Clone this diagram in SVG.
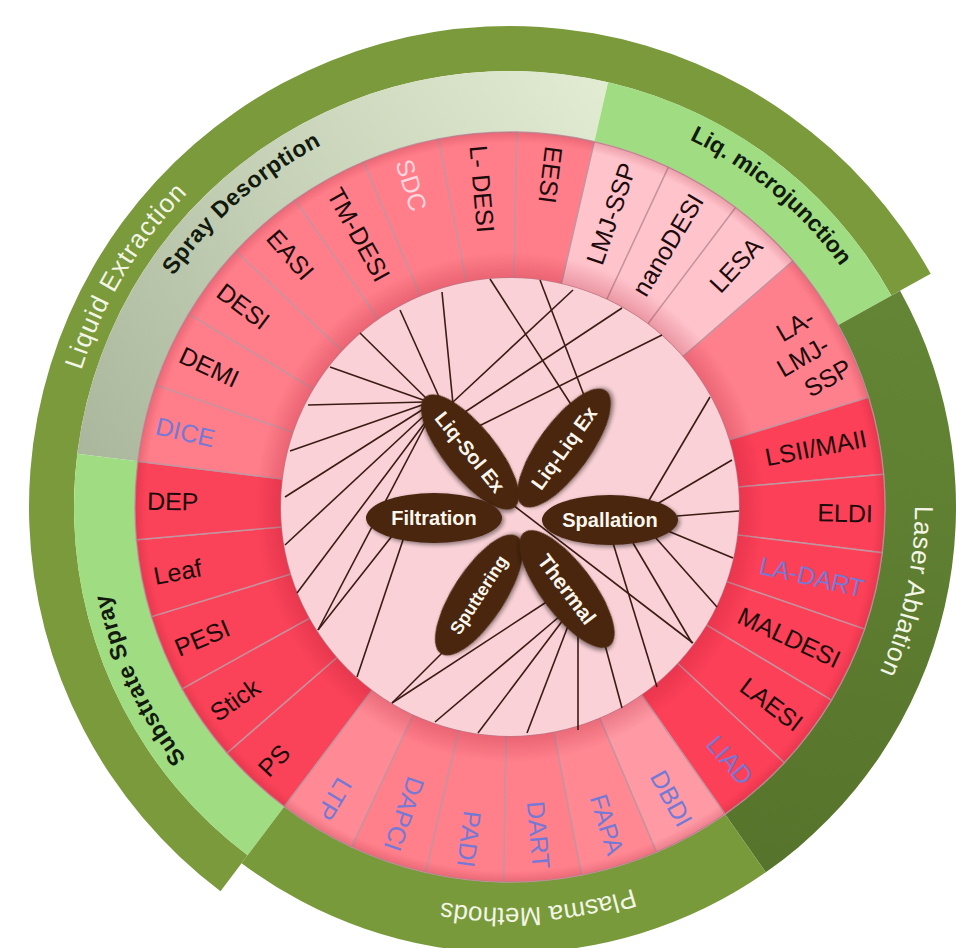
<svg xmlns="http://www.w3.org/2000/svg" width="956" height="948" viewBox="0 0 956 948">
<defs>
<style>
.lbl{font-family:"Liberation Sans",Arial,sans-serif;font-size:25px;dominant-baseline:central}
.out{text-anchor:end}
.in{text-anchor:start}
.k{fill:#1c0a0c}
.b{fill:#7479d6}
.p{fill:#ffd6de}
.seg{stroke:#c4949f;stroke-width:1.4}
.grp{font-family:"Liberation Sans",Arial,sans-serif;text-anchor:middle}
.wt{fill:#f3f5e6;font-size:26px}
.bk{fill:#111a0c;font-weight:bold;font-size:23px}
.petal{fill:#4a2511}
.pt{font-family:"Liberation Sans",Arial,sans-serif;font-weight:bold;fill:#fbf7ee;text-anchor:middle;dominant-baseline:central}
.con line{stroke:#3b1c14;stroke-width:1.6}
</style>
<path id="s12" d="M470.80,134.05 A375,375 0 0 1 549.20,134.05 L533.94,279.25 A229,229 0 0 0 486.06,279.25 Z"/>
<path id="s24" d="M432.03,140.20 A375,375 0 0 1 587.97,140.20 L557.61,283.00 A229,229 0 0 0 462.39,283.00 Z"/>
<path id="arcLE" d="M84.52,653.51 A450,450 0 0 1 439.61,62.54"/>
<path id="arcSD" d="M102.14,517.68 A408,408 0 0 1 570.31,103.48"/>
<path id="arcLM" d="M438.98,104.21 A409,409 0 0 1 919,507"/>
<path id="arcLA" d="M829.14,257.66 A405,405 0 0 1 700.14,864.59"/>
<path id="arcPM" d="M834.42,742.70 A401,401 0 0 1 221.55,785.56"/>
<path id="arcSS" d="M403.88,903.03 A410,410 0 0 1 138.41,333.73"/>
<linearGradient id="sdg" gradientUnits="userSpaceOnUse" x1="620" y1="80" x2="90" y2="470">
<stop offset="0" stop-color="#e3edd3"/><stop offset="1" stop-color="#aab79c"/>
</linearGradient>
<linearGradient id="lag" gradientUnits="userSpaceOnUse" x1="880" y1="300" x2="780" y2="870">
<stop offset="0" stop-color="#648535"/><stop offset="1" stop-color="#56742b"/>
</linearGradient>
<radialGradient id="shade" gradientUnits="userSpaceOnUse" cx="510" cy="507" r="375">
<stop offset="0.6" stop-color="#b01830" stop-opacity="0.3"/>
<stop offset="0.68" stop-color="#b01830" stop-opacity="0"/>
<stop offset="0.97" stop-color="#b01830" stop-opacity="0"/>
<stop offset="1" stop-color="#901020" stop-opacity="0.2"/>
</radialGradient>
<filter id="sh" x="-20%" y="-40%" width="140%" height="180%">
<feGaussianBlur in="SourceAlpha" stdDeviation="2"/>
<feOffset dx="1.5" dy="2"/>
<feComponentTransfer><feFuncA type="linear" slope="0.45"/></feComponentTransfer>
<feMerge><feMergeNode/><feMergeNode in="SourceGraphic"/></feMerge>
</filter>
</defs>

<g id="band-liquid-extraction">
<path d="M247.61,855.21 L220.52,891.15 A481,481 0 1 1 930.69,273.81 L891.33,295.62 A436,436 0 1 0 247.61,855.21 Z" fill="#7a9a3b"/>
<text class="grp wt" font-size="28" letter-spacing="1"><textPath href="#arcLE" startOffset="50%">Liquid Extraction</textPath></text>
</g>
<g id="band-spray-desorption">
<path d="M137.79,461.30 L77.25,453.86 A436,436 0 0 1 608.08,82.18 L594.36,141.61 A375,375 0 0 0 137.79,461.30 Z" fill="url(#sdg)"/>
<text class="grp bk" font-size="24" letter-spacing="0.5"><textPath href="#arcSD" startOffset="50%">Spray Desorption</textPath></text>
</g>
<g id="band-liq-microjunction">
<path d="M594.36,141.61 L608.08,82.18 A436,436 0 0 1 891.33,295.62 L837.98,325.20 A375,375 0 0 0 594.36,141.61 Z" fill="#a0dc82"/>
<text class="grp bk" font-size="22"><textPath href="#arcLM" startOffset="50%">Liq. microjunction</textPath></text>
</g>
<g id="band-substrate-spray">
<path d="M284.32,806.49 L247.61,855.21 A436,436 0 0 1 77.25,453.86 L137.79,461.30 A375,375 0 0 0 284.32,806.49 Z" fill="#a0dc82"/>
<text class="grp bk" font-size="24" letter-spacing="0.5"><textPath href="#arcSS" startOffset="50%">Substrate Spray</textPath></text>
</g>
<g id="band-laser-ablation">
<path d="M837.98,325.20 L900.08,290.77 A446,446 0 0 1 765.82,872.34 L725.09,814.18 A375,375 0 0 0 837.98,325.20 Z" fill="url(#lag)"/>
<text class="grp wt" letter-spacing="0.5"><textPath href="#arcLA" startOffset="50%">Laser Ablation</textPath></text>
</g>
<g id="band-plasma-methods">
<path d="M725.09,814.18 L765.82,872.34 A446,446 0 0 1 241.59,863.19 L284.32,806.49 A375,375 0 0 0 725.09,814.18 Z" fill="#789a3b"/>
<text class="grp wt"><textPath href="#arcPM" startOffset="50%">Plasma Methods</textPath></text>
</g>

<g id="seg-EESI"><use href="#s12" class="seg" fill="#ff7e8a" transform="rotate(7 510 507)"/><text class="lbl in k" transform="rotate(7 510 507) translate(510 144) rotate(90)">EESI</text></g>
<g id="seg-LMJ-SSP"><use href="#s12" class="seg" fill="#ffc3cb" transform="rotate(19 510 507)"/><text class="lbl out k" transform="rotate(19 510 507) translate(510 144) rotate(-90)">LMJ-SSP</text></g>
<g id="seg-nanoDESI"><use href="#s12" class="seg" fill="#ffc3cb" transform="rotate(31 510 507)"/><text class="lbl out k" transform="rotate(31 510 507) translate(510 144) rotate(-90)">nanoDESI</text></g>
<g id="seg-LESA"><use href="#s12" class="seg" fill="#ffc3cb" transform="rotate(43 510 507)"/><text class="lbl out k" transform="rotate(43 510 507) translate(510 144) rotate(-90)">LESA</text></g>
<g id="seg-LA-LMJ-SSP"><use href="#s24" class="seg" fill="#ff808d" transform="rotate(61 510 507)"/><text class="lbl k" font-size="22" text-anchor="middle" transform="translate(795 325) rotate(-30)"><tspan x="0" y="0">LA-</tspan><tspan x="-9" y="31">LMJ-</tspan><tspan x="2" y="62">SSP</tspan></text></g>
<g id="seg-LSII-MAII"><use href="#s12" class="seg" fill="#fc4058" transform="rotate(79 510 507)"/><text class="lbl out k" transform="rotate(79 510 507) translate(510 144) rotate(-90)">LSII/MAII</text></g>
<g id="seg-ELDI"><use href="#s12" class="seg" fill="#fc4058" transform="rotate(91 510 507)"/><text class="lbl out k" transform="rotate(91 510 507) translate(510 144) rotate(-90)">ELDI</text></g>
<g id="seg-LA-DART"><use href="#s12" class="seg" fill="#fc4058" transform="rotate(103 510 507)"/><text class="lbl out b" transform="rotate(103 510 507) translate(510 144) rotate(-90)">LA-DART</text></g>
<g id="seg-MALDESI"><use href="#s12" class="seg" fill="#fc4058" transform="rotate(115 510 507)"/><text class="lbl out k" transform="rotate(115 510 507) translate(510 144) rotate(-90)">MALDESI</text></g>
<g id="seg-LAESI"><use href="#s12" class="seg" fill="#fc4058" transform="rotate(127 510 507)"/><text class="lbl out k" transform="rotate(127 510 507) translate(510 144) rotate(-90)">LAESI</text></g>
<g id="seg-LIAD"><use href="#s12" class="seg" fill="#fc4058" transform="rotate(139 510 507)"/><text class="lbl out b" transform="rotate(139 510 507) translate(510 144) rotate(-90)">LIAD</text></g>
<g id="seg-DBDI"><use href="#s12" class="seg" fill="#ff9aa5" transform="rotate(151 510 507)"/><text class="lbl out b" transform="rotate(151 510 507) translate(510 144) rotate(-90)">DBDI</text></g>
<g id="seg-FAPA"><use href="#s12" class="seg" fill="#ff8893" transform="rotate(163 510 507)"/><text class="lbl out b" transform="rotate(163 510 507) translate(510 144) rotate(-90)">FAPA</text></g>
<g id="seg-DART"><use href="#s12" class="seg" fill="#ff7f8b" transform="rotate(175 510 507)"/><text class="lbl out b" transform="rotate(175 510 507) translate(510 144) rotate(-90)">DART</text></g>
<g id="seg-PADI"><use href="#s12" class="seg" fill="#ff7f8b" transform="rotate(187 510 507)"/><text class="lbl out b" transform="rotate(187 510 507) translate(510 144) rotate(-90)">PADI</text></g>
<g id="seg-DAPCI"><use href="#s12" class="seg" fill="#ff7f8b" transform="rotate(199 510 507)"/><text class="lbl out b" transform="rotate(199 510 507) translate(510 144) rotate(-90)">DAPCI</text></g>
<g id="seg-LTP"><use href="#s12" class="seg" fill="#ff8a95" transform="rotate(211 510 507)"/><text class="lbl out b" transform="rotate(211 510 507) translate(510 144) rotate(-90)">LTP</text></g>
<g id="seg-PS"><use href="#s12" class="seg" fill="#fa4359" transform="rotate(223 510 507)"/><text class="lbl in k" transform="rotate(223 510 507) translate(510 144) rotate(90)">PS</text></g>
<g id="seg-Stick"><use href="#s12" class="seg" fill="#fa4359" transform="rotate(235 510 507)"/><text class="lbl in k" transform="rotate(235 510 507) translate(510 144) rotate(90)">Stick</text></g>
<g id="seg-PESI"><use href="#s12" class="seg" fill="#fa4359" transform="rotate(247 510 507)"/><text class="lbl in k" transform="rotate(247 510 507) translate(510 144) rotate(90)">PESI</text></g>
<g id="seg-Leaf"><use href="#s12" class="seg" fill="#fa4359" transform="rotate(259 510 507)"/><text class="lbl in k" transform="rotate(259 510 507) translate(510 144) rotate(90)">Leaf</text></g>
<g id="seg-DEP"><use href="#s12" class="seg" fill="#fa4359" transform="rotate(271 510 507)"/><text class="lbl in k" transform="rotate(271 510 507) translate(510 144) rotate(90)">DEP</text></g>
<g id="seg-DICE"><use href="#s12" class="seg" fill="#ff7e8a" transform="rotate(283 510 507)"/><text class="lbl in b" transform="rotate(283 510 507) translate(510 144) rotate(90)">DICE</text></g>
<g id="seg-DEMI"><use href="#s12" class="seg" fill="#ff7e8a" transform="rotate(295 510 507)"/><text class="lbl in k" transform="rotate(295 510 507) translate(510 144) rotate(90)">DEMI</text></g>
<g id="seg-DESI"><use href="#s12" class="seg" fill="#ff7e8a" transform="rotate(307 510 507)"/><text class="lbl in k" transform="rotate(307 510 507) translate(510 144) rotate(90)">DESI</text></g>
<g id="seg-EASI"><use href="#s12" class="seg" fill="#ff7e8a" transform="rotate(319 510 507)"/><text class="lbl in k" transform="rotate(319 510 507) translate(510 144) rotate(90)">EASI</text></g>
<g id="seg-TM-DESI"><use href="#s12" class="seg" fill="#ff7e8a" transform="rotate(331 510 507)"/><text class="lbl in k" transform="rotate(331 510 507) translate(510 144) rotate(90)">TM-DESI</text></g>
<g id="seg-SDC"><use href="#s12" class="seg" fill="#ff7e8a" transform="rotate(343 510 507)"/><text class="lbl in p" transform="rotate(343 510 507) translate(510 144) rotate(90)">SDC</text></g>
<g id="seg-L-DESI"><use href="#s12" class="seg" fill="#ff7e8a" transform="rotate(355 510 507)"/><text class="lbl in k" transform="rotate(355 510 507) translate(510 144) rotate(90)">L- DESI</text></g>

<circle cx="510" cy="507" r="375" fill="url(#shade)"/>
<circle id="inner-disc" cx="510" cy="507" r="229" fill="#f9d1d6"/>

<g id="connectors" class="con">
<line x1="400" y1="310" x2="440" y2="399"/>
<line x1="442" y1="292" x2="453" y2="404"/>
<line x1="360" y1="333" x2="428" y2="400"/>
<line x1="330" y1="367" x2="426" y2="401"/>
<line x1="308" y1="405" x2="425" y2="402"/>
<line x1="290" y1="451" x2="425" y2="404"/>
<line x1="285" y1="497" x2="425" y2="408"/>
<line x1="285" y1="545" x2="428" y2="412"/>
<line x1="297" y1="593" x2="430" y2="416"/>
<line x1="318" y1="630" x2="428" y2="420"/>
<line x1="318" y1="630" x2="392" y2="536"/>
<line x1="357" y1="677" x2="403" y2="540"/>
<line x1="573" y1="290" x2="453" y2="402"/>
<line x1="622" y1="308" x2="465" y2="412"/>
<line x1="662" y1="335" x2="479" y2="426"/>
<line x1="490" y1="279" x2="572" y2="406"/>
<line x1="540" y1="280" x2="585" y2="398"/>
<line x1="710" y1="397" x2="648" y2="502"/>
<line x1="732" y1="460" x2="657" y2="504"/>
<line x1="739" y1="511" x2="677" y2="516"/>
<line x1="733" y1="558" x2="668" y2="531"/>
<line x1="717" y1="607" x2="655" y2="537"/>
<line x1="692" y1="643" x2="633" y2="543"/>
<line x1="657" y1="687" x2="613" y2="543"/>
<line x1="513" y1="505" x2="693" y2="643"/>
<line x1="622" y1="708" x2="605" y2="645"/>
<line x1="578" y1="730" x2="578" y2="634"/>
<line x1="527" y1="733" x2="568" y2="626"/>
<line x1="478" y1="733" x2="563" y2="620"/>
<line x1="435" y1="722" x2="560" y2="616"/>
<line x1="392" y1="703" x2="548" y2="601"/>
<line x1="392" y1="703" x2="442" y2="653"/>
</g>

<g id="petal-liq-sol-ex" transform="translate(470 452) rotate(51)"><ellipse rx="71" ry="26" class="petal" filter="url(#sh)"/><text class="pt" font-size="20">Liq-Sol Ex</text></g>
<g id="petal-liq-liq-ex" transform="translate(564 448) rotate(-54)"><ellipse rx="71" ry="26" class="petal" filter="url(#sh)"/><text class="pt" font-size="20">Liq-Liq Ex</text></g>
<g id="petal-filtration" transform="translate(434 518)"><ellipse rx="68" ry="25" class="petal" filter="url(#sh)"/><text class="pt" font-size="20">Filtration</text></g>
<g id="petal-spallation" transform="translate(610 520)"><ellipse rx="68" ry="25" class="petal" filter="url(#sh)"/><text class="pt" font-size="20">Spallation</text></g>
<g id="petal-sputtering" transform="translate(479 595) rotate(-57)"><ellipse rx="70" ry="26" class="petal" filter="url(#sh)"/><text class="pt" font-size="18">Sputtering</text></g>
<g id="petal-thermal" transform="translate(567 589) rotate(53)"><ellipse rx="71" ry="26" class="petal" filter="url(#sh)"/><text class="pt" font-size="21">Thermal</text></g>
</svg>
